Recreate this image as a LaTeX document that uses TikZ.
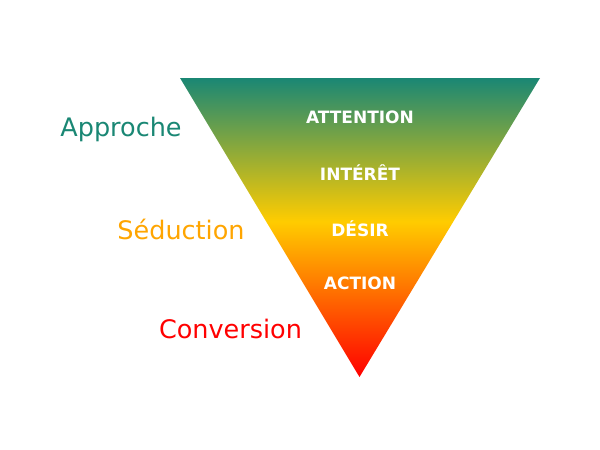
\documentclass[tikz,border=0pt]{standalone}
\usepackage{fontspec}
\setmainfont{DejaVu Sans}

\definecolor{funnelteal}{RGB}{26,135,116}
\definecolor{funnelyellow}{RGB}{255,204,0}
\definecolor{funnelred}{RGB}{255,0,0}
\definecolor{funnelorange}{RGB}{255,165,0}

\pgfdeclareverticalshading{funnelshade}{100bp}{color(0bp)=(funnelred); color(25bp)=(funnelred); color(51bp)=(funnelyellow); color(75bp)=(funnelteal); color(100bp)=(funnelteal)}

\tikzset{
  stage/.style={anchor=base, text=white, font=\fontsize{17}{19}\selectfont\bfseries},
  phase/.style={anchor=base, font=\fontsize{25.5}{28}\selectfont}
}

\begin{document}
\begin{tikzpicture}[x=1pt, y=-1pt]
\useasboundingbox (0,0) rectangle (600,450);

% Các đỉnh của phễu
\coordinate (topleft) at (180,78);
\coordinate (topright) at (540,78);
\coordinate (tip) at (359.5,377);

% Vẽ phễu với màu chuyển
\shade[shading=funnelshade] (topleft) -- (topright) -- (tip) -- cycle;

% Các bước trong phễu
\node[stage] (attention) at (360,123) {ATTENTION};
\node[stage] (interet) at (360,180) {INTÉRÊT};
\node[stage] (desir) at (360,236) {DÉSIR};
\node[stage] (action) at (360,289) {ACTION};

% Các giai đoạn bên trái
\node[phase, text=funnelteal] (approche) at (121,136.5) {Approche};
\node[phase, text=funnelorange] (seduction) at (181,239) {Séduction};
\node[phase, text=funnelred] (conversion) at (230.5,338.5) {Conversion};
\end{tikzpicture}
\end{document}
